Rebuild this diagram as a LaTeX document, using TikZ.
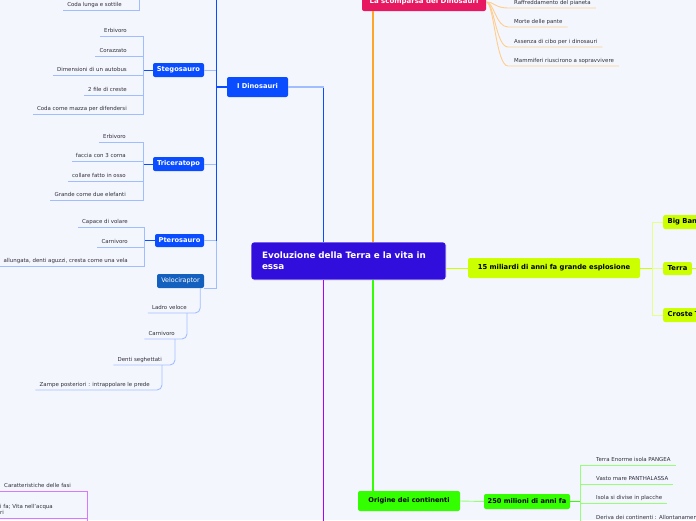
\documentclass[tikz,border=0pt]{standalone}
\usepackage{fontspec}
\setmainfont{DejaVu Sans}
\definecolor{bg}{RGB}{244,246,254}
\definecolor{dblue}{RGB}{10,76,255}
\definecolor{lblue}{RGB}{160,190,255}
\definecolor{vblue}{RGB}{20,96,190}
\definecolor{rootc}{RGB}{50,14,220}
\definecolor{pinkc}{RGB}{232,24,96}
\definecolor{orangec}{RGB}{255,165,40}
\definecolor{lorange}{RGB}{255,205,140}
\definecolor{limec}{RGB}{204,255,0}
\definecolor{llime}{RGB}{228,255,140}
\definecolor{mgreen}{RGB}{51,255,0}
\definecolor{lgreen}{RGB}{150,255,120}
\definecolor{purp}{RGB}{170,0,255}
\definecolor{lpurp}{RGB}{215,120,255}
\definecolor{labc}{RGB}{45,45,55}
\begin{document}
\begin{tikzpicture}[x=1pt,y=-1pt,
  lbl/.style={font=\fontsize{5.45}{6.3}\selectfont, text=labc, inner xsep=4pt, inner ysep=1.8pt, text height=4pt, text depth=1.2pt},
  lblr/.style={lbl, inner xsep=5pt},
  boxn/.style={rounded corners=2pt, inner sep=0pt, text height=4.8pt, text depth=1.3pt},
  bnode/.style={boxn, fill=dblue, text=white, font=\bfseries\fontsize{6.7}{7}\selectfont},
  vnode/.style={boxn, fill=vblue, text=white, font=\fontsize{6.4}{7}\selectfont},
  pnode/.style={boxn, fill=pinkc, text=white, font=\bfseries\fontsize{7}{8}\selectfont},
  ynode/.style={boxn, fill=limec, text=black, font=\bfseries\fontsize{6.8}{7}\selectfont},
  gnode/.style={boxn, fill=mgreen, text=black, font=\bfseries\fontsize{6.6}{7}\selectfont},
  rnode/.style={rounded corners=3pt, fill=rootc, text=white, draw=white, line width=0.6pt, font=\bfseries\fontsize{8.8}{11}\selectfont, inner sep=0pt},
  trunk/.style={line width=1.5pt},
  thin/.style={line width=0.9pt}]
\useasboundingbox (0,0) rectangle (696,520);
\clip (0,0) rectangle (696,520);
\fill[bg] (0,0) rectangle (696,520);

% coordinates for junction lines
\coordinate (bj) at (323.5,87);
\coordinate (oj) at (373,0);
\coordinate (pj) at (323.5,530);
\coordinate (dv) at (216,0);
\coordinate (sv) at (143,0);
\coordinate (tv) at (143,0);
\coordinate (pv) at (144,0);
\coordinate (cv) at (139,0);
\coordinate (yv) at (652,0);
\coordinate (gv) at (580,0);
\coordinate (fv) at (87,0);
\coordinate (gend) at (580,530);
\coordinate (fend) at (87,530);
\coordinate (tx) at (700,268.5);

% main nodes
\node[rnode, minimum width=195pt, minimum height=38pt, text width=173pt, align=left] (root) at (348.5,261) {Evoluzione della Terra e la vita in\\essa};
\node[bnode, minimum width=61pt, minimum height=20pt] (dino) at (257.5,87) {I Dinosauri};
\node[bnode, minimum width=51pt, minimum height=14pt] (steg) at (178.5,70) {Stegosauro};
\node[bnode, minimum width=51pt, minimum height=14pt] (tric) at (178.5,164) {Triceratopo};
\node[bnode, minimum width=49pt, minimum height=13pt] (pter) at (179.5,240.5) {Pterosauro};
\node[vnode, minimum width=47pt, minimum height=14pt] (velo) at (180.5,281) {Velociraptor};
\node[pnode, minimum width=124pt, minimum height=18pt] (scomp) at (424,2) {La scomparsa dei Dinosauri};
\node[ynode, minimum width=172pt, minimum height=20pt] (bang) at (554,268) {15 miliardi di anni fa grande esplosione};
\node[ynode, anchor=west, minimum height=14pt, inner xsep=4.5pt] (bb) at (663,222) {Big Bang};
\node[ynode, anchor=west, minimum height=13pt, inner xsep=4.5pt] (terra) at (663,268.5) {Terra};
\node[ynode, anchor=west, minimum height=14pt, inner xsep=4.5pt] (croste) at (663,315) {Croste Terrestri};
\node[gnode, minimum width=102pt, minimum height=20pt] (orig) at (409,501) {Origine dei continenti};
\node[gnode, minimum width=86pt, minimum height=15pt] (m250) at (527,501.5) {250 milioni di anni fa};

% trunks from root
\draw[dblue, trunk] (root.north -| bj) -- (bj);
\draw[lblue, trunk] (bj) -- (dino.east);
\draw[orangec, trunk] (root.north -| oj) -- (scomp.south -| oj);
\draw[limec, thin] (root.east |- bang.west) -- (bang.west);
\draw[mgreen, trunk] (root.south -| oj) -- (orig.north -| oj);
\draw[purp, trunk] (root.south -| pj) -- (pj);

% dinosaur branch
\draw[dblue, trunk] (dino.west) -- (dino.west -| dv);
\draw[dblue, thin] (dv) -- (pter.east -| dv);
\draw[lblue, thin] (pter.east -| dv) -- (velo.south east -| dv) -- (velo.south east);
\draw[lblue, thin] (steg.east) -- (steg.east -| dv);
\draw[lblue, thin] (tric.east) -- (tric.east -| dv);
\draw[lblue, thin] (pter.east) -- (pter.east -| dv);

% top cut leaf
\node[lbl, anchor=south east] (c1) at (126,10) {Coda lunga e sottile};
\draw[lblue, thin] (c1.south west) -- (c1.south west -| cv) -- (cv);

% Stegosauro leaves
\node[lbl, anchor=south east] (s1) at (131,36) {Erbivoro};
\node[lbl, anchor=south east] (s2) at (131,56) {Corazzato};
\node[lbl, anchor=south east] (s3) at (131,75) {Dimensioni di un autobus};
\node[lbl, anchor=south east] (s4) at (131,95) {2 file di creste};
\node[lbl, anchor=south east] (s5) at (131,114) {Coda come mazza per difendersi};
\draw[dblue, thin] (steg.west) -- (steg.west -| sv);
\draw[lblue, thin] (s1.south west) -- (s1.south west -| sv) -- (s5.south west -| sv) -- (s5.south west);
\foreach \n in {s2,s3,s4} \draw[lblue, thin] (\n.south west) -- (\n.south west -| sv);

% Triceratopo leaves
\node[lbl, anchor=south east] (t1) at (130,142) {Erbivoro};
\node[lbl, anchor=south east] (t2) at (130,161) {faccia con 3 corna};
\node[lbl, anchor=south east] (t3) at (130,181) {collare fatto in osso};
\node[lbl, anchor=south east] (t4) at (130,200) {Grande come due elefanti};
\draw[dblue, thin] (tric.west) -- (tric.west -| tv);
\draw[lblue, thin] (t1.south west) -- (t1.south west -| tv) -- (t4.south west -| tv) -- (t4.south west);
\foreach \n in {t2,t3} \draw[lblue, thin] (\n.south west) -- (\n.south west -| tv);

% Pterosauro leaves
\node[lbl, anchor=south east] (p1) at (132,227) {Capace di volare};
\node[lbl, anchor=south east] (p2) at (132,247) {Carnivoro};
\node[lbl, anchor=south east] (p3) at (132,266) {allungata, denti aguzzi, cresta come una vela};
\draw[dblue, thin] (pter.west) -- (pter.west -| pv);
\draw[lblue, thin] (p1.south west) -- (p1.south west -| pv) -- (p3.south west -| pv) -- (p3.south west);
\draw[lblue, thin] (p2.south west) -- (p2.south west -| pv);

% Velociraptor chain
\node[lbl, anchor=south east] (v1) at (191,313) {Ladro veloce};
\node[lbl, anchor=south east] (v2) at (179,339) {Carnivoro};
\node[lbl, anchor=south east] (v3) at (166,365) {Denti seghettati};
\node[lbl, anchor=south east] (v4) at (154,390) {Zampe posteriori : intrappolare le prede};
\draw[lblue, thin, rounded corners=5pt] ([xshift=-4pt]velo.south east) |- (v1.south west);
\draw[lblue, thin, rounded corners=5pt] ([xshift=-4pt]v1.south east) |- (v2.south west);
\draw[lblue, thin, rounded corners=5pt] ([xshift=-4pt]v2.south east) |- (v3.south west);
\draw[lblue, thin, rounded corners=5pt] ([xshift=-4pt]v3.south east) |- (v4.south west);

% La scomparsa leaves
\node[lblr, anchor=south west] (r1) at (509,8) {Raffreddamento del pianeta};
\node[lblr, anchor=south west] (r2) at (509,27) {Morte delle pante};
\node[lblr, anchor=south west] (r3) at (509,47) {Assenza di cibo per i dinosauri};
\node[lblr, anchor=south west] (r4) at (509,66) {Mammiferi riuscirono a sopravvivere};
\draw[lorange, thin] (scomp.east) .. controls (495,2) and (494,8) .. (r1.south west) -- (r1.south east);
\draw[lorange, thin] (scomp.east) .. controls (494,2) and (496,27) .. ([xshift=-1pt]r2.south west) -- (r2.south east);
\draw[lorange, thin] (scomp.east) .. controls (494,2) and (496,47) .. ([xshift=-1pt]r3.south west) -- (r3.south east);
\draw[lorange, thin] (scomp.east) .. controls (494,2) and (496,66) .. ([xshift=-1pt]r4.south west) -- (r4.south east);

% 15 miliardi children
\draw[limec, thin] (bang.east) -- (bang.east -| yv);
\draw[llime, thin] (bb.west) -- (bb.west -| yv) -- (croste.west -| yv) -- (croste.west);
\draw[llime, thin] (terra.west -| yv) -- (terra.west);
\draw[limec, thin] (terra.east) -- (tx);

% continents
\draw[lgreen, thin] (orig.east) -- (m250.west);
\draw[mgreen, thin] (m250.east) -- (m250.east -| gv);
\node[lblr, anchor=south west] (g1) at (591,465) {Terra Enorme isola PANGEA};
\node[lblr, anchor=south west] (g2) at (591,484) {Vasto mare PANTHALASSA};
\node[lblr, anchor=south west] (g3) at (591,503) {Isola si divise in placche};
\node[lblr, anchor=south west] (g4) at (591,523) {Deriva dei continenti : Allontanamento};
\draw[lgreen, thin] (g1.south east) -- (g1.south west -| gv) -- (gend);
\foreach \n in {g2,g3,g4} \draw[lgreen, thin] (\n.south west -| gv) -- (\n.south east);

% bottom left purple
\node[lbl, anchor=south west] (cf) at (0,491) {Caratteristiche delle fasi};
\node[lbl, anchor=south west, align=left] (vf) at (-4,518) {i fa; Vita nell'acqua\\ri};
\draw[lpurp, thin] (cf.south west) -- (cf.south west -| fv) -- (fend);
\draw[lpurp, thin] (vf.south west) -- (vf.south west -| fv);
\end{tikzpicture}
\end{document}
